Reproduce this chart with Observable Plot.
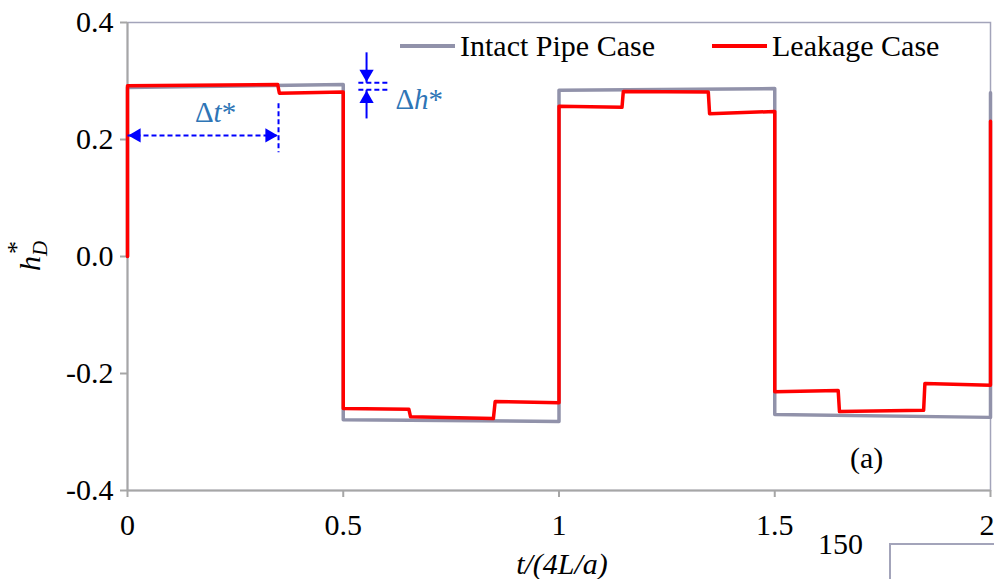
<!DOCTYPE html>
<html>
<head>
<meta charset="utf-8">
<script src="https://cdn.jsdelivr.net/npm/d3@7"></script>
<script src="https://cdn.jsdelivr.net/npm/@observablehq/plot@0.6"></script>
<style>
  html, body { margin: 0; padding: 0; background: white; overflow: hidden; }
  #wrap { position: relative; width: 994px; height: 579px; font-family: "Liberation Serif", "Times New Roman", Times, Tinos, "Nimbus Roman", "Noto Serif", "DejaVu Serif", FreeSerif, serif; }
  .leg { position: absolute; top: 29px; font-size: 30px; color: #000; display: flex; align-items: center; white-space: nowrap; }
  .leg span.sw { display: inline-block; width: 55px; height: 4px; margin-right: 5px; }
  .frag { position: absolute; }
</style>
</head>
<body>
<div id="wrap"></div>
<script>
// ---- data ----
const xTicks = [0, 0.5, 1, 1.5, 2];
const xTickLabels = ["0", "0.5", "1", "1.5", "2"];
const yTicks = [-0.4, -0.2, 0, 0.2, 0.4];

const intactT = [0, 0, 0.5, 0.5, 1, 1, 1.5, 1.5, 2, 2];
const intactH = [0, 0.289, 0.294, -0.279, -0.282, 0.284, 0.287, -0.270, -0.275, 0.280];

const leakT = [0, 0, 0.348, 0.352, 0.5, 0.5, 0.652, 0.656, 0.848, 0.852, 1, 1, 1.146, 1.149, 1.346, 1.349, 1.5, 1.5, 1.647, 1.650, 1.845, 1.848, 2, 2];
const leakH = [0, 0.292, 0.294, 0.279, 0.281, -0.260, -0.261, -0.274, -0.277, -0.248, -0.250, 0.257, 0.255, 0.282, 0.281, 0.244, 0.248, -0.231, -0.229, -0.265, -0.263, -0.217, -0.220, 0.231];

const seriesNames = ["Intact Pipe Case", "Leakage Case"];
const seriesColors = ["#9192aa", "#ff0000"];

// annotation values (data coords)
const dtArrow = { x1: 0, x2: 0.35, y: 0.207 };
const dtGuide = { x: 0.35, y1: 0.262, y2: 0.178 };
const dtLabel = { x: 0.204, y: 0.245, text: "Δt*" };
const dhLines = { x1: 0.535, x2: 0.605, yTop: 0.297, yBot: 0.285 };
const dhArrow = { x: 0.554, yHigh: 0.349, yLow: 0.236 };
const dhLabel = { x: 0.621, y: 0.268, text: "Δh*" };
const panelLabel = { x: 1.713, y: -0.345, text: "(a)" };

const intact = intactT.map((t, i) => ({ t, h: intactH[i] }));
const leak = leakT.map((t, i) => ({ t, h: leakH[i] }));
const lastTick = [{ x: xTicks[xTicks.length - 1], y: -0.4, text: xTickLabels[xTickLabels.length - 1] }];

const blue = "#0000ff";
const textBlue = "#2e75b6";
const serif = '"Liberation Serif", "Times New Roman", Times, Tinos, "Nimbus Roman", "Noto Serif", "DejaVu Serif", FreeSerif, serif';

const plot = Plot.plot({
  width: 994,
  height: 579,
  marginLeft: 127,
  marginRight: 4,
  marginTop: 22,
  marginBottom: 89,
  style: { fontFamily: serif, fontSize: "30px", background: "white", overflow: "visible", color: "black" },
  x: { domain: [0, 2] },
  y: { domain: [-0.4, 0.4] },
  marks: [
    Plot.frame({ stroke: "#a3a4ba", strokeWidth: 1.5 }),
    Plot.ruleX([0], { stroke: "#a6a6a6", strokeWidth: 2 }),
    Plot.ruleY([-0.4], { stroke: "#a6a6a6", strokeWidth: 2 }),
    Plot.axisY({ ticks: yTicks, tickSize: 7, tickPadding: 7, tickFormat: d => d.toFixed(1), stroke: "#a6a6a6", strokeWidth: 2, fill: "black", label: null }),
    Plot.axisX({ ticks: xTicks, tickSize: 7, tickPadding: 16, tickFormat: d => (d === xTicks[xTicks.length - 1] ? "" : xTickLabels[xTicks.indexOf(d)]), stroke: "#a6a6a6", strokeWidth: 2, fill: "black", label: null }),
    Plot.text(lastTick, { x: "x", y: "y", text: "text", textAnchor: "end", lineAnchor: "top", dx: 4, dy: 23, fill: "black", fontSize: 30 }),
    Plot.line(intact, { x: "t", y: "h", stroke: seriesColors[0], strokeWidth: 3.5 }),
    Plot.line(leak, { x: "t", y: "h", stroke: seriesColors[1], strokeWidth: 3.5 }),
    // Δt annotation
    Plot.link([dtArrow], { x1: "x1", x2: "x2", y1: "y", y2: "y", stroke: blue, strokeWidth: 2, strokeDasharray: "5,3" }),
    Plot.link([dtGuide], { x1: "x", x2: "x", y1: "y1", y2: "y2", stroke: blue, strokeWidth: 2, strokeDasharray: "5,3" }),
    Plot.dot([dtArrow], { x: "x1", y: "y", symbol: "triangle", r: 5.3, fill: blue, stroke: "none", rotate: -90, dx: 9 }),
    Plot.dot([dtArrow], { x: "x2", y: "y", symbol: "triangle", r: 5.3, fill: blue, stroke: "none", rotate: 90, dx: -9 }),
    Plot.text([dtLabel], { x: "x", y: "y", text: "text", fill: textBlue, fontSize: 29, textAnchor: "middle" }),
    // Δh annotation
    Plot.link([dhLines], { x1: "x1", x2: "x2", y1: "yTop", y2: "yTop", stroke: blue, strokeWidth: 2, strokeDasharray: "5,3" }),
    Plot.link([dhLines], { x1: "x1", x2: "x2", y1: "yBot", y2: "yBot", stroke: blue, strokeWidth: 2, strokeDasharray: "5,3" }),
    Plot.link([{ ...dhArrow, ...dhLines }], { x1: "x", x2: "x", y1: "yHigh", y2: "yTop", stroke: blue, strokeWidth: 2 }),
    Plot.link([{ ...dhArrow, ...dhLines }], { x1: "x", x2: "x", y1: "yLow", y2: "yBot", stroke: blue, strokeWidth: 2 }),
    Plot.dot([{ ...dhArrow, ...dhLines }], { x: "x", y: "yTop", symbol: "triangle", r: 5.3, fill: blue, stroke: "none", rotate: 180, dy: -9 }),
    Plot.dot([{ ...dhArrow, ...dhLines }], { x: "x", y: "yBot", symbol: "triangle", r: 5.3, fill: blue, stroke: "none", rotate: 0, dy: 9 }),
    Plot.text([dhLabel], { x: "x", y: "y", text: "text", fill: textBlue, fontSize: 29, textAnchor: "start" }),
    // panel label
    Plot.text([panelLabel], { x: "x", y: "y", text: "text", fill: "black", fontSize: 30, textAnchor: "middle" })
  ]
});

const svg = d3.select(plot);
svg.selectAll("text").each(function () {
  const t = this.textContent;
  if (t === dtLabel.text) d3.select(this).html('Δ<tspan font-style="italic">t</tspan>*');
  if (t === dhLabel.text) d3.select(this).html('Δ<tspan font-style="italic">h</tspan>*');
});

// axis titles
svg.append("text")
  .attr("x", 562).attr("y", 574)
  .attr("text-anchor", "middle")
  .attr("font-style", "italic")
  .attr("font-size", 30)
  .attr("fill", "black")
  .text("t/(4L/a)");

svg.append("text")
  .attr("transform", "translate(40,256) rotate(-90)")
  .attr("text-anchor", "middle")
  .attr("font-size", 30)
  .attr("fill", "black")
  .html('<tspan font-style="italic">h</tspan><tspan font-style="italic" font-size="21" dy="7">D</tspan><tspan font-size="26" dx="-13" dy="-22">*</tspan>');

const wrap = document.getElementById("wrap");
wrap.appendChild(plot);

// legend
const legPos = [400, 712];
seriesNames.forEach((name, i) => {
  const d = document.createElement("div");
  d.className = "leg";
  d.style.left = legPos[i] + "px";
  d.innerHTML = `<span class="sw" style="background:${seriesColors[i]}"></span>${name}`;
  wrap.appendChild(d);
});

// fragment of the neighbouring panel visible at the bottom right
const frag = document.createElement("div");
frag.innerHTML = `
  <div class="frag" style="left:818px;top:529px;font-size:30px;line-height:30px;">150</div>
  <div class="frag" style="left:889px;top:543px;width:105px;height:2px;background:#a3a4ba;"></div>
  <div class="frag" style="left:889px;top:543px;width:2px;height:40px;background:#a3a4ba;"></div>`;
wrap.appendChild(frag);
</script>
</body>
</html>
